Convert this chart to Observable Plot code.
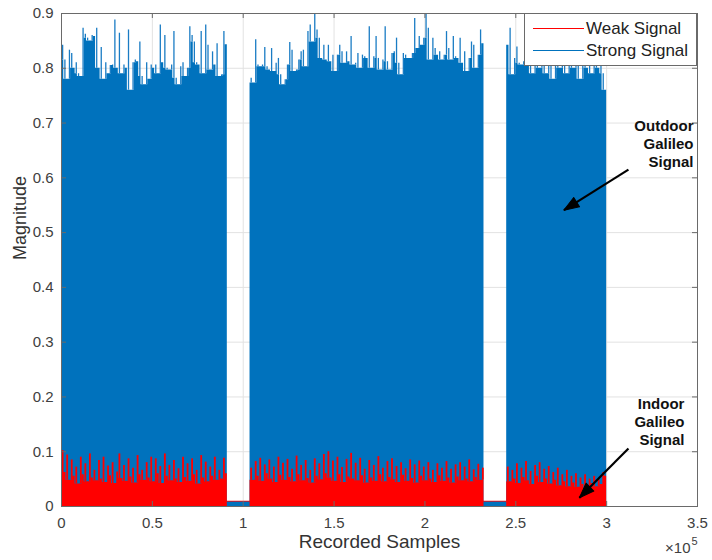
<!DOCTYPE html>
<html>
<head>
<meta charset="utf-8">
<script src="https://cdn.jsdelivr.net/npm/d3@7"></script>
<script src="https://cdn.jsdelivr.net/npm/@observablehq/plot@0.6"></script>
<style>
  body { margin: 0; background: #fff; font-family: "Liberation Sans", Arial, sans-serif; }
  #wrap { position: relative; width: 712px; height: 560px; }
  #legend { position: absolute; left: 524px; top: 13px; width: 173px; height: 53px; box-sizing: border-box;
            border: 1px solid #6a6a6a; background: #fff; }
  .li { position: absolute; left: 0; height: 20px; width: 171px; }
  .li .sw { position: absolute; left: 8px; top: 9px; width: 51px; height: 0; border-top: 1.3px solid; }
  .li .lt { position: absolute; left: 61px; top: 0; font-size: 17px; line-height: 20px; color: #222; white-space: nowrap; }
</style>
</head>
<body>
<div id="wrap"></div>
<script>
// ---- data (magnitude peaks, one value per 1250 recorded samples) ----
const binSamples = 1250;

const strongOn1 = [0.842,0.815,0.78,0.833,0.827,0.80,0.81,0.79,0.785,0.873,0.862,0.855,0.85,0.86,0.858,0.873,0.80,0.838,0.78,0.81,0.79,0.805,0.806,0.888,0.80,0.864,0.79,0.806,0.80,0.87,0.76,0.81,0.815,0.812,0.848,0.785,0.77,0.81,0.78,0.806,0.80,0.806,0.79,0.879,0.81,0.86,0.80,0.797,0.806,0.867,0.782,0.77,0.803,0.81,0.785,0.80,0.876,0.86,0.848,0.81,0.806,0.867,0.79,0.879,0.842,0.797,0.83,0.806,0.845,0.785,0.788,0.867,0.843];
const strongGap1 = [0.008,0.008,0.008,0.008,0.008,0.008,0.008,0.008,0.008,0.008];
const strongOn2 = [0.782,0.773,0.852,0.806,0.803,0.806,0.838,0.803,0.797,0.836,0.794,0.809,0.818,0.788,0.770,0.779,0.806,0.847,0.833,0.794,0.797,0.815,0.830,0.833,0.803,0.867,0.879,0.848,0.90,0.870,0.855,0.818,0.842,0.815,0.842,0.812,0.824,0.794,0.824,0.842,0.830,0.809,0.830,0.812,0.858,0.806,0.809,0.827,0.80,0.824,0.821,0.818,0.876,0.80,0.821,0.858,0.818,0.797,0.815,0.876,0.812,0.797,0.827,0.830,0.855,0.809,0.788,0.827,0.824,0.818,0.818,0.827,0.891,0.836,0.858,
                   0.842,0.855,0.90,0.873,0.815,0.855,0.836,0.824,0.830,0.815,0.824,0.867,0.836,0.815,0.858,0.821,0.818,0.855,0.809,0.830,0.794,0.818,0.848,0.842,0.80,0.824,0.870,0.845];
const strongGap2 = [0.008,0.008,0.008,0.008,0.008,0.008,0.008,0.008,0.008,0.008];
const strongOn3 = [0.842,0.873,0.788,0.818,0.839,0.809,0.806,0.812,0.836,0.81,0.84,0.79,0.83,0.85,0.80,0.82,0.86,0.79,0.81,0.84,0.78,0.83,0.82,0.80,0.85,0.81,0.79,0.84,0.83,0.80,0.86,0.81,0.78,0.82,0.84,0.80,0.83,0.79,0.85,0.81,0.80,0.83,0.79,0.76];

const weakOn1 = [0.102,0.062,0.094,0.048,0.085,0.055,0.072,0.041,0.090,0.058,0.078,0.045,0.096,0.052,0.066,0.047,0.084,0.050,0.090,0.044,0.074,0.056,0.080,0.042,0.063,0.096,0.051,0.075,0.046,0.087,0.054,0.070,0.043,0.093,0.058,0.066,0.048,0.080,0.052,0.090,0.045,0.087,0.060,0.073,0.042,0.096,0.055,0.075,0.047,0.084,0.050,0.069,0.044,0.090,0.053,0.078,0.046,0.087,0.058,0.066,0.041,0.093,0.052,0.081,0.045,0.072,0.055,0.090,0.048,0.066,0.050,0.088,0.060];
const weakGap1 = [0.0095,0.0095,0.010,0.0095,0.0095,0.013,0.010,0.0095,0.0095,0.0095];
const weakOn2 = [0.070,0.048,0.082,0.055,0.088,0.046,0.076,0.060,0.085,0.050,0.072,0.044,0.090,0.057,0.079,0.048,0.086,0.053,0.068,0.045,0.092,0.058,0.075,0.047,0.084,0.051,0.066,0.043,0.087,0.055,0.078,0.049,0.095,0.060,0.100,0.052,0.083,0.046,0.090,0.058,0.071,0.044,0.086,0.054,0.097,0.050,0.079,0.047,0.088,0.056,0.068,0.043,0.084,0.052,0.075,0.046,0.091,0.058,0.070,0.045,0.082,0.053,0.087,0.049,0.073,0.044,0.080,0.057,0.069,0.046,0.085,0.051,0.076,0.043,0.083,0.055,0.072,0.047,0.080,0.050,0.066,0.044,0.078,0.056,0.070,0.046,0.082,0.052,0.068,0.043,0.076,0.054,0.080,0.047,0.072,0.050,0.085,0.045,0.067,0.053,0.077,0.048,0.070];
const weakGap2 = [0.0095,0.010,0.0095,0.010,0.0095,0.0095,0.010,0.0095,0.010,0.0095];
const weakOn3 = [0.072,0.045,0.066,0.050,0.078,0.042,0.070,0.053,0.082,0.047,0.064,0.040,0.075,0.055,0.080,0.044,0.068,0.050,0.073,0.041,0.062,0.048,0.070,0.038,0.058,0.045,0.066,0.036,0.055,0.043,0.060,0.035,0.052,0.040,0.058,0.033,0.050,0.042,0.055,0.036,0.048,0.040,0.062,0.055];

const xTicks = [0, 50000, 100000, 150000, 200000, 250000, 300000, 350000];
const yTicks = [0, 0.1, 0.2, 0.3, 0.4, 0.5, 0.6, 0.7, 0.8, 0.9];

const seriesNames = ["Weak Signal", "Strong Signal"];
const seriesColors = ["#FF0000", "#0072BD"];

const notes = [
  {x: 347800, y: 0.663, text: "Outdoor\nGalileo\nSignal"},
  {x: 342800, y: 0.155, text: "Indoor\nGalileo\nSignal"}
];
const arrows = [
  {x1: 312000, y1: 0.615, x2: 276500, y2: 0.541},
  {x1: 312000, y1: 0.106, x2: 285000, y2: 0.016}
];

// ---- build table ----
const strongParts = [strongOn1, strongGap1, strongOn2, strongGap2, strongOn3];
const weakParts = [weakOn1, weakGap1, weakOn2, weakGap2, weakOn3];
const rows = [];
strongParts.forEach((arr, p) => {
  arr.forEach((v, j) => rows.push({x: rows.length * binSamples, strong: v, weak: weakParts[p][j], part: p}));
});
// solid body of each trace = lowest of the bin and its neighbours in the same run
rows.forEach((r, i) => {
  const nb = [rows[i - 1], r, rows[i + 1]].filter(q => q && q.part === r.part);
  r.strongBase = d3.min(nb, q => q.strong);
  r.weakBase = d3.min(nb, q => q.weak);
  r.xc = r.x + binSamples / 2;
});
const lastRow = rows[rows.length - 1];
const rowsClosed = [...rows, {...lastRow, x: lastRow.x + binSamples}];

// gap overlay rows (each closed at the start of the following run)
const gapRows = [];
rows.forEach((r, i) => {
  if (r.part === 1 || r.part === 3) {
    gapRows.push(r);
    if (rows[i + 1] && rows[i + 1].part !== r.part) gapRows.push({...r, x: rows[i + 1].x});
  }
});
const onRows = rows.filter(r => r.part % 2 === 0);

const W = 712, H = 560, mL = 61, mR = 15, mT = 13, mB = 54;
const kx = (W - mL - mR) / 350000, ky = (H - mT - mB) / 0.9;
const headRotate = d => Math.atan2((d.x2 - d.x1) * kx, (d.y2 - d.y1) * ky) * 180 / Math.PI;
const headShape = {draw(ctx, l) { ctx.moveTo(0, -l); ctx.lineTo(-5.5, 0); ctx.lineTo(5.5, 0); ctx.closePath(); }};

const axisGray = "#6a6a6a";
const chart = Plot.plot({
  width: W, height: H,
  marginLeft: mL, marginRight: mR, marginTop: mT, marginBottom: mB,
  style: {fontFamily: "'Liberation Sans', Arial, sans-serif", fontSize: "15px", background: "white", color: "#404040"},
  x: {domain: [0, 350000]},
  y: {domain: [0, 0.9]},
  marks: [
    Plot.gridX(xTicks, {stroke: "#e2e2e2", strokeOpacity: 1}),
    Plot.gridY(yTicks, {stroke: "#e2e2e2", strokeOpacity: 1}),
    // strong (outdoor) signal
    Plot.areaY(rowsClosed, {x: "x", y: "strongBase", curve: "step-after", fill: seriesColors[1]}),
    Plot.ruleX(onRows, {x: "xc", y1: "strongBase", y2: "strong", stroke: "#1a7cc4", strokeWidth: 1.3}),
    // weak (indoor) signal
    Plot.areaY(rowsClosed, {x: "x", y: "weakBase", curve: "step-after", fill: seriesColors[0]}),
    Plot.ruleX(onRows, {x: "xc", y1: "weakBase", y2: "weak", stroke: seriesColors[0], strokeWidth: 1.8}),
    Plot.areaY(gapRows, {x: "x", y: "strongBase", z: "part", curve: "step-after", fill: seriesColors[1]}),
    Plot.frame({stroke: axisGray}),
    Plot.tickX(xTicks, {x: d => d, insetTop: H - mT - mB - 5, stroke: axisGray}),
    Plot.tickX(xTicks, {x: d => d, insetBottom: H - mT - mB - 5, stroke: axisGray}),
    Plot.tickY(yTicks, {y: d => d, insetRight: W - mL - mR - 5, stroke: axisGray}),
    Plot.tickY(yTicks, {y: d => d, insetLeft: W - mL - mR - 5, stroke: axisGray}),
    Plot.axisX(xTicks, {tickSize: 0, tickPadding: 11, tickFormat: d => String(d / 1e5), fontSize: 15, fill: "#404040", label: null}),
    Plot.axisY(yTicks, {tickSize: 0, tickPadding: 8, tickFormat: d => String(d), fontSize: 15, fill: "#404040", label: null}),
    Plot.text(["Recorded Samples"], {frameAnchor: "bottom", dy: 41, fontSize: 19, fill: "#333"}),
    Plot.text(["Magnitude"], {frameAnchor: "left", dx: -41, rotate: -90, fontSize: 18, fill: "#333"}),
    Plot.text(["\u00d710"], {frameAnchor: "bottom-right", dx: -7, dy: 46, textAnchor: "end", fontSize: 15, fill: "#404040"}),
    Plot.text(["5"], {frameAnchor: "bottom-right", dx: -6, dy: 38, textAnchor: "start", fontSize: 11, fill: "#404040"}),
    Plot.text(notes, {x: "x", y: "y", text: "text", textAnchor: "end", lineAnchor: "middle", lineHeight: 1.2, fontSize: 15, fontWeight: "bold", fill: "#111"}),
    Plot.link(arrows, {x1: "x1", y1: "y1", x2: "x2", y2: "y2", stroke: "black", strokeWidth: 2.2}),
    Plot.vector(arrows, {x: "x2", y: "y2", rotate: headRotate, length: 15, anchor: "end", shape: headShape, fill: "black", stroke: "black", strokeWidth: 1})
  ]
});
const wrap = document.getElementById("wrap");
wrap.appendChild(chart);

// legend inside the axes (upper right)
const legend = document.createElement("div");
legend.id = "legend";
seriesNames.forEach((name, i) => {
  const li = document.createElement("div");
  li.className = "li";
  li.style.top = (5 + i * 22) + "px";
  li.innerHTML = `<div class="sw" style="border-color:${seriesColors[i]}"></div><div class="lt">${name}</div>`;
  legend.appendChild(li);
});
wrap.appendChild(legend);
</script>
</body>
</html>
